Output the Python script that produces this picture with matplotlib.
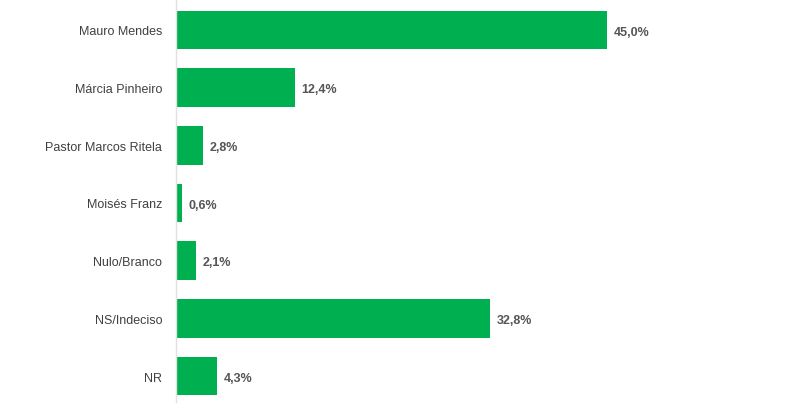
import matplotlib
matplotlib.use("Agg")
import matplotlib.pyplot as plt
from matplotlib import font_manager

categories = ["Mauro Mendes", "Márcia Pinheiro", "Pastor Marcos Ritela", "Moisés Franz",
              "Nulo/Branco", "NS/Indeciso", "NR"]
values = [45.0, 12.4, 2.8, 0.6, 2.1, 32.8, 4.3]
value_labels = ["45,0%", "12,4%", "2,8%", "0,6%", "2,1%", "32,8%", "4,3%"]

names = {f.name for f in font_manager.fontManager.ttflist}
fam = 'Liberation Sans Narrow' if 'Liberation Sans Narrow' in names else 'Liberation Sans'
plt.rcParams['font.family'] = [fam, 'DejaVu Sans']
fs = 10 if fam == 'Liberation Sans Narrow' else 9

W, H = 800, 414
fig = plt.figure(figsize=(W / 100, H / 100), dpi=100)
left_px, right_px = 176, 790
top_px, bot_px = 0, 403
ax = fig.add_axes([left_px / W, 1 - bot_px / H, (right_px - left_px) / W, (bot_px - top_px) / H])

px_per_unit = (607 - 176) / 45.0
ax.set_xlim(0, (right_px - left_px) / px_per_unit)
spacing = 57.67
ax.set_ylim(6 + (bot_px - 377) / spacing, -(31 - top_px) / spacing)

green = "#00B050"
ypos = list(range(len(categories)))
ax.barh(ypos, values, height=0.67, color=green, zorder=2)
for y, v, lab in zip(ypos, values, value_labels):
    ax.text(v + 0.7, y + 0.03, lab, va="center", ha="left", fontsize=fs, fontweight="bold", color="#555555")

ax.set_yticks(ypos)
ax.set_yticklabels(categories, fontsize=fs, color="#404040")
for t in ax.get_yticklabels():
    t.set_y(t.get_position()[1])
ax.tick_params(axis="y", length=0, pad=10)
ax.set_xticks([])
for s in ["top", "right", "bottom"]:
    ax.spines[s].set_visible(False)
ax.spines["left"].set_color("#E0E0E0")
ax.spines["left"].set_linewidth(1)

fig.savefig("out.png", dpi=100, facecolor="white")
